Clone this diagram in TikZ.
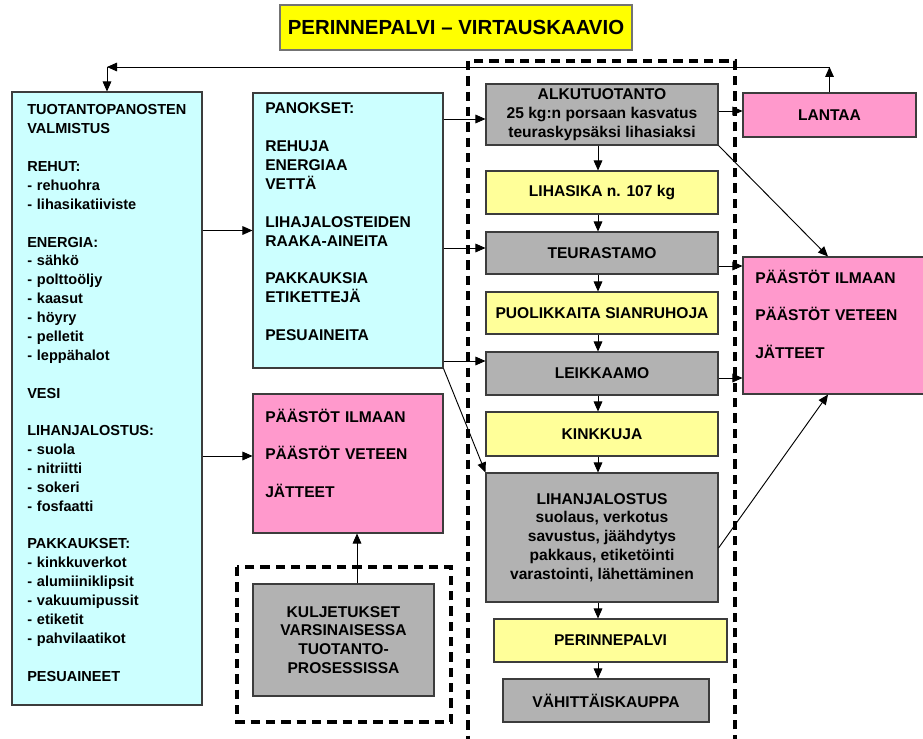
\documentclass[tikz,border=0pt]{standalone}
\usepackage{fontspec}
\setmainfont{Liberation Sans}
\usetikzlibrary{arrows.meta}

\definecolor{boxcyan}{HTML}{CCFFFF}
\definecolor{boxpink}{HTML}{FF99CC}
\definecolor{boxyellow}{HTML}{FFFF99}
\definecolor{boxgray}{HTML}{B2B2B2}
\definecolor{titleyellow}{HTML}{FFFF00}
\definecolor{edgegray}{HTML}{3C3C3C}

\newcommand\diagfont{\bfseries\fontsize{11.7}{14.15}\selectfont}
\newcommand\listfont{\bfseries\fontsize{10.9}{14.15}\selectfont}
\newcommand\gap{\\[14.15pt]}
% box from its corners: style, name, x1, y1, x2, y2, then the node text
\newcommand\boxat[6]{%
  \node[#1, minimum width={(#5-#3)*0.75pt}, minimum height={(#6-#4)*0.75pt}]
    (#2) at ({(#3+#5)/2},{(#4+#6)/2})}

\tikzset{
  box/.style={rectangle, draw=edgegray, line width=0.8pt, inner sep=2pt,
    align=center, font=\diagfont},
  cyanbox/.style={box, fill=boxcyan},
  pinkbox/.style={box, fill=boxpink},
  yellowbox/.style={box, fill=boxyellow},
  graybox/.style={box, fill=boxgray},
  titlebox/.style={box, fill=titleyellow, draw=black!55, line width=1.2pt,
    font=\bfseries\fontsize{15.3}{18}\selectfont},
  txt/.style={inner sep=0pt, text width=150pt, align=left, anchor=base west,
    font=\diagfont},
  dashbox/.style={draw=black, line width=2.7pt, dash pattern=on 7pt off 4.5pt},
  arr/.style={-{Triangle[length=7.5pt,width=6.5pt]}, line width=0.7pt},
}

\begin{document}
\begin{tikzpicture}[x=0.75pt, y=-0.75pt]
\useasboundingbox (0,0) rectangle (923,738);
\clip (0,0) rectangle (923,738);

% process boundaries
\draw[dashbox] (468,61) rectangle (735,760);
\draw[dashbox] (237,567) rectangle (451,722);

% title
\boxat{titlebox}{title}{280}{5}{632}{50}{PERINNEPALVI – VIRTAUSKAAVIO};

% inputs
\boxat{cyanbox}{left}{12}{92}{202}{705}{};
\boxat{cyanbox}{mid}{253}{93}{443}{368}{};
\node[txt, font=\listfont] (leftTxt) at (27,115) {TUOTANTOPANOSTEN\\VALMISTUS\gap
  REHUT:\\- rehuohra\\- lihasikatiiviste\gap
  ENERGIA:\\- sähkö\\- polttoöljy\\- kaasut\\- höyry\\- pelletit\\- leppähalot\gap
  VESI\gap
  LIHANJALOSTUS:\\- suola\\- nitriitti\\- sokeri\\- fosfaatti\gap
  PAKKAUKSET:\\- kinkkuverkot\\- alumiiniklipsit\\- vakuumipussit\\- etiketit\\- pahvilaatikot\gap
  PESUAINEET};
\node[txt] (midTxt) at (265,114) {PANOKSET:\gap
  REHUJA\\ENERGIAA\\VETTÄ\gap
  LIHAJALOSTEIDEN\\RAAKA-AINEITA\gap
  PAKKAUKSIA\\ETIKETTEJÄ\gap
  PESUAINEITA};

% emissions
\boxat{pinkbox}{pinkL}{253}{394}{443}{533}{};
\node[txt] (pinkLTxt) at (265,422) {PÄÄSTÖT ILMAAN\gap PÄÄSTÖT VETEEN\gap JÄTTEET};
\boxat{pinkbox}{lantaa}{743}{93}{916}{137}{LANTAA};
\boxat{pinkbox}{pinkR}{743}{257}{935}{394}{};
\node[txt] (pinkRTxt) at (755,283) {PÄÄSTÖT ILMAAN\gap PÄÄSTÖT VETEEN\gap JÄTTEET};

% transport
\boxat{graybox}{kulj}{253}{584}{434}{696}{KULJETUKSET\\VARSINAISESSA\\TUOTANTO-\\PROSESSISSA};

% main process chain
\boxat{graybox}{alku}{486}{84}{718}{145}{ALKUTUOTANTO\\25 kg:n porsaan kasvatus\\teuraskypsäksi lihasiaksi};
\boxat{yellowbox}{lihasika}{486}{171}{718}{214}{LIHASIKA n. 107 kg};
\boxat{graybox}{teur}{486}{232}{718}{274}{TEURASTAMO};
\boxat{yellowbox}{puol}{486}{292}{718}{334}{PUOLIKKAITA SIANRUHOJA};
\boxat{graybox}{leik}{486}{352}{718}{395}{LEIKKAAMO};
\boxat{yellowbox}{kink}{486}{412}{718}{456}{KINKKUJA};
\boxat{graybox}{lihanj}{486}{473}{718}{602}{LIHANJALOSTUS\\suolaus, verkotus\\savustus, jäähdytys\\pakkaus, etiketöinti\\varastointi, lähettäminen};
\boxat{yellowbox}{perin}{494}{619}{727}{662}{PERINNEPALVI};
\boxat{graybox}{vahit}{503}{679}{709}{722}{VÄHITTÄISKAUPPA};

% helper coordinates for connector levels
\coordinate (tr) at (829.5,67);
\coordinate (tl) at (107,67);
\coordinate (yPinkL) at (0,456);
\coordinate (yAlkuIn) at (0,119);
\coordinate (yTeurIn) at (0,248);
\coordinate (yLeikIn) at (0,361);
\coordinate (yLant) at (0,111);
\coordinate (yTeurOut) at (0,266);
\coordinate (yLeikOut) at (0,378);
\coordinate (yLihOut) at (0,548);
\coordinate (xCol) at (598,0);
\coordinate (xPinkR) at (828,0);
\coordinate (xKulj) at (357,0);

% manure loop back to input production
\draw[arr] (lantaa.north) -- (tr);
\draw[arr] (tr) -- (tl);
\draw[arr] (tl) -- (left.north);

% inputs
\draw[arr] (left.east |- mid.west) -- (mid.west);
\draw[arr] (left.east |- yPinkL) -- (pinkL.west |- yPinkL);
\draw[arr] (mid.east |- yAlkuIn) -- (alku.west |- yAlkuIn);
\draw[arr] (mid.east |- yTeurIn) -- (teur.west |- yTeurIn);
\draw[arr] (mid.east |- yLeikIn) -- (leik.west |- yLeikIn);
\draw[arr] (mid.south east) -- (lihanj.north west);

% main chain
\foreach \a/\b in {alku/lihasika, lihasika/teur, teur/puol, puol/leik,
                   leik/kink, kink/lihanj, lihanj/perin, perin/vahit}
  \draw[arr] (\a.south -| xCol) -- (\b.north -| xCol);

% outputs
\draw[arr] (alku.east |- yLant) -- (lantaa.west |- yLant);
\draw[arr] (teur.east |- yTeurOut) -- (pinkR.west |- yTeurOut);
\draw[arr] (leik.east |- yLeikOut) -- (pinkR.west |- yLeikOut);
\draw[arr] (alku.south east) -- (pinkR.north -| xPinkR);
\draw[arr] (lihanj.east |- yLihOut) -- (pinkR.south -| xPinkR);
\draw[arr] (kulj.north -| xKulj) -- (pinkL.south -| xKulj);
\end{tikzpicture}
\end{document}
